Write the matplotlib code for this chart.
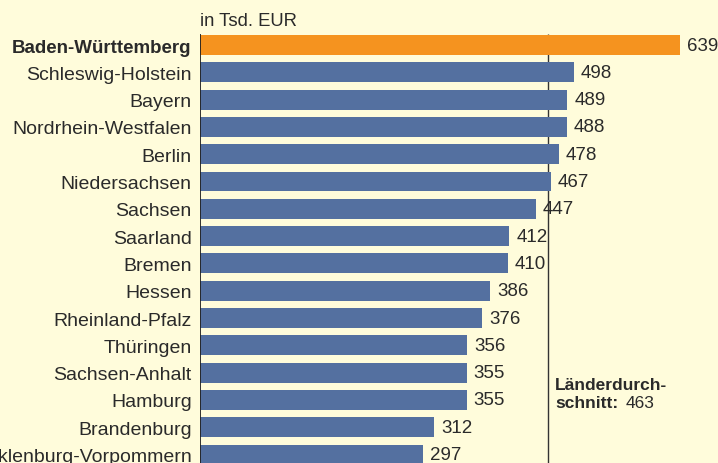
import matplotlib.pyplot as plt

# data
laender = ['Baden-Württemberg', 'Schleswig-Holstein', 'Bayern', 'Nordrhein-Westfalen',
           'Berlin', 'Niedersachsen', 'Sachsen', 'Saarland', 'Bremen', 'Hessen',
           'Rheinland-Pfalz', 'Thüringen', 'Sachsen-Anhalt', 'Hamburg', 'Brandenburg',
           'Mecklenburg-Vorpommern']
werte = [639, 498, 489, 488, 478, 467, 447, 412, 410, 386, 376, 356, 355, 355, 312, 297]
durchschnitt = 463

bg = '#FFFCDB'
blau = '#5470A0'
orange = '#F5931F'
textfarbe = '#2a2a2a'

plt.rcParams['font.family'] = ['Liberation Sans', 'DejaVu Sans']

fig = plt.figure(figsize=(7.18, 4.64), dpi=100, facecolor=bg)
# axes: left edge at the zero line, spans the whole height
ax = fig.add_axes([200 / 718, 0, 518 / 718, 1])
ax.set_facecolor(bg)

pos = list(range(len(werte)))
farben = [orange] + [blau] * (len(werte) - 1)
ax.barh(pos, werte, height=0.73, color=farben, zorder=2)

# row pitch 27.3 px, first row centre at 46 px from top
ax.set_xlim(0, 518 / 0.7512)
ax.set_ylim((464 - 46) / 27.3, -46 / 27.3)

for sp in ax.spines.values():
    sp.set_visible(False)

# zero line and average line
ax.vlines(0, -0.42, 16, color='#222222', lw=1.3, zorder=3)
ax.vlines(durchschnitt, -0.42, 16, color='#333333', lw=1.0, zorder=1)

ax.set_yticks(pos)
ax.set_yticklabels(laender, fontsize=14, color=textfarbe)
ax.get_yticklabels()[0].set_fontweight('bold')
ax.get_yticklabels()[0].set_fontsize(13.5)
ax.tick_params(axis='y', length=0, pad=6)
ax.set_xticks([])

for p, w in zip(pos, werte):
    ax.annotate(str(w), (w, p), xytext=(5, 0), textcoords='offset points',
                va='center', ha='left', fontsize=13.5, color=textfarbe)

ax.text(0, -0.88, 'in Tsd. EUR', fontsize=13.3, color=textfarbe, va='center', ha='left')

ax.text(472.5, 12.42, 'Länderdurch-', fontsize=12.5, fontweight='bold',
        color=textfarbe, va='center', ha='left')
ax.text(472.5, 13.08, 'schnitt:', fontsize=12.5, fontweight='bold',
        color=textfarbe, va='center', ha='left')
ax.text(567, 13.08, str(durchschnitt), fontsize=12.5,
        color=textfarbe, va='center', ha='left')

fig.savefig('out.png', dpi=100, facecolor=bg)
